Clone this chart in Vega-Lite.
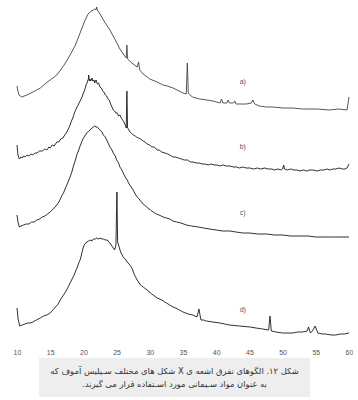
{
  "$schema": "https://vega.github.io/schema/vega-lite/v6.json",
  "background": "white",
  "padding": {"left": 13, "top": 0, "right": 0, "bottom": 0},
  "spacing": 3,
  "config": {"view": {"stroke": null}},
  "datasets": {
    "traces": [
      {"s":"a","t":10.0,"i":259},{"s":"a","t":10.1,"i":255},{"s":"a","t":10.3,"i":250},{"s":"a","t":10.7,"i":248},{"s":"a","t":11.5,"i":250},{"s":"a","t":12.4,"i":253},{"s":"a","t":13.5,"i":257},{"s":"a","t":14.2,"i":261},{"s":"a","t":15.0,"i":265},{"s":"a","t":16.0,"i":270},{"s":"a","t":17.0,"i":279},{"s":"a","t":18.0,"i":290},{"s":"a","t":18.8,"i":300},{"s":"a","t":19.5,"i":312},{"s":"a","t":20.2,"i":324},{"s":"a","t":20.7,"i":331},{"s":"a","t":21.2,"i":334},{"s":"a","t":21.5,"i":335},{"s":"a","t":21.7,"i":336},{"s":"a","t":21.9,"i":335},{"s":"a","t":22.0,"i":338},{"s":"a","t":22.1,"i":335},{"s":"a","t":22.5,"i":331},{"s":"a","t":23.2,"i":323},{"s":"a","t":24.0,"i":315},{"s":"a","t":24.8,"i":305},{"s":"a","t":25.5,"i":296},{"s":"a","t":26.1,"i":290},{"s":"a","t":26.45,"i":287},{"s":"a","t":26.55,"i":300},{"s":"a","t":26.65,"i":286},{"s":"a","t":27.3,"i":282},{"s":"a","t":28.1,"i":278},{"s":"a","t":28.3,"i":283},{"s":"a","t":28.5,"i":275},{"s":"a","t":29.0,"i":271},{"s":"a","t":30.0,"i":266},{"s":"a","t":31.1,"i":263},{"s":"a","t":32.0,"i":260},{"s":"a","t":32.6,"i":259},{"s":"a","t":33.5,"i":257},{"s":"a","t":34.1,"i":255},{"s":"a","t":35.0,"i":252},{"s":"a","t":35.5,"i":251},{"s":"a","t":35.65,"i":282},{"s":"a","t":35.8,"i":252},{"s":"a","t":36.4,"i":248},{"s":"a","t":37.5,"i":246},{"s":"a","t":38.6,"i":245},{"s":"a","t":39.5,"i":244},{"s":"a","t":40.6,"i":242},{"s":"a","t":40.8,"i":246},{"s":"a","t":41.0,"i":242},{"s":"a","t":41.6,"i":242},{"s":"a","t":41.8,"i":245},{"s":"a","t":42.0,"i":242},{"s":"a","t":42.6,"i":242},{"s":"a","t":42.8,"i":244},{"s":"a","t":43.0,"i":241},{"s":"a","t":44.5,"i":241},{"s":"a","t":45.3,"i":242},{"s":"a","t":45.5,"i":245},{"s":"a","t":45.8,"i":241},{"s":"a","t":46.5,"i":239},{"s":"a","t":47.6,"i":238},{"s":"a","t":48.5,"i":238},{"s":"a","t":50.1,"i":237},{"s":"a","t":51.5,"i":237},{"s":"a","t":53.0,"i":236},{"s":"a","t":55.2,"i":236},{"s":"a","t":57.0,"i":235},{"s":"a","t":58.5,"i":236},{"s":"a","t":59.7,"i":235},{"s":"a","t":60.0,"i":248},

      {"s":"b","t":10.0,"i":200},{"s":"b","t":10.15,"i":190},{"s":"b","t":10.35,"i":186},{"s":"b","t":10.6,"i":188},{"s":"b","t":10.8,"i":187},{"s":"b","t":11.0,"i":189},{"s":"b","t":11.2,"i":188},{"s":"b","t":11.5,"i":190},{"s":"b","t":11.8,"i":189},{"s":"b","t":12.1,"i":191},{"s":"b","t":12.4,"i":190},{"s":"b","t":12.7,"i":192},{"s":"b","t":13.0,"i":192},{"s":"b","t":13.4,"i":194},{"s":"b","t":13.8,"i":194},{"s":"b","t":14.2,"i":196},{"s":"b","t":14.5,"i":195},{"s":"b","t":14.8,"i":198},{"s":"b","t":15.0,"i":197},{"s":"b","t":15.3,"i":200},{"s":"b","t":15.6,"i":199},{"s":"b","t":16.0,"i":203},{"s":"b","t":16.3,"i":203},{"s":"b","t":16.6,"i":206},{"s":"b","t":16.9,"i":207},{"s":"b","t":17.2,"i":210},{"s":"b","t":17.5,"i":213},{"s":"b","t":17.8,"i":217},{"s":"b","t":18.0,"i":220},{"s":"b","t":18.2,"i":224},{"s":"b","t":18.4,"i":227},{"s":"b","t":18.7,"i":233},{"s":"b","t":18.9,"i":236},{"s":"b","t":19.2,"i":240},{"s":"b","t":19.5,"i":244},{"s":"b","t":19.8,"i":248},{"s":"b","t":20.0,"i":252},{"s":"b","t":20.2,"i":255},{"s":"b","t":20.4,"i":260},{"s":"b","t":20.6,"i":263},{"s":"b","t":20.75,"i":266},{"s":"b","t":20.8,"i":270},{"s":"b","t":20.9,"i":264},{"s":"b","t":21.0,"i":266},{"s":"b","t":21.1,"i":264},{"s":"b","t":21.3,"i":267},{"s":"b","t":21.4,"i":264},{"s":"b","t":21.6,"i":265},{"s":"b","t":21.7,"i":262},{"s":"b","t":21.9,"i":265},{"s":"b","t":22.1,"i":261},{"s":"b","t":22.3,"i":262},{"s":"b","t":22.5,"i":258},{"s":"b","t":22.7,"i":257},{"s":"b","t":22.9,"i":254},{"s":"b","t":23.1,"i":253},{"s":"b","t":23.3,"i":250},{"s":"b","t":23.5,"i":249},{"s":"b","t":23.7,"i":246},{"s":"b","t":23.9,"i":245},{"s":"b","t":24.1,"i":241},{"s":"b","t":24.3,"i":238},{"s":"b","t":24.5,"i":235},{"s":"b","t":24.7,"i":234},{"s":"b","t":24.9,"i":232},{"s":"b","t":25.1,"i":232},{"s":"b","t":25.3,"i":229},{"s":"b","t":25.5,"i":230},{"s":"b","t":25.7,"i":227},{"s":"b","t":25.9,"i":225},{"s":"b","t":26.1,"i":223},{"s":"b","t":26.3,"i":220},{"s":"b","t":26.45,"i":217},{"s":"b","t":26.55,"i":254},{"s":"b","t":26.65,"i":217},{"s":"b","t":26.8,"i":216},{"s":"b","t":27.0,"i":213},{"s":"b","t":27.2,"i":212},{"s":"b","t":27.5,"i":210},{"s":"b","t":27.8,"i":209},{"s":"b","t":28.0,"i":208},{"s":"b","t":28.3,"i":207},{"s":"b","t":28.6,"i":206},{"s":"b","t":29.0,"i":204},{"s":"b","t":29.3,"i":203},{"s":"b","t":29.6,"i":201},{"s":"b","t":30.0,"i":200},{"s":"b","t":30.3,"i":198},{"s":"b","t":30.7,"i":198},{"s":"b","t":31.1,"i":195},{"s":"b","t":31.4,"i":195},{"s":"b","t":31.8,"i":193},{"s":"b","t":32.3,"i":192},{"s":"b","t":32.7,"i":191},{"s":"b","t":33.0,"i":190},{"s":"b","t":33.5,"i":188},{"s":"b","t":33.9,"i":188},{"s":"b","t":34.3,"i":187},{"s":"b","t":34.8,"i":186},{"s":"b","t":35.2,"i":185},{"s":"b","t":35.7,"i":185},{"s":"b","t":36.1,"i":183},{"s":"b","t":36.5,"i":183},{"s":"b","t":37.0,"i":182},{"s":"b","t":37.4,"i":182},{"s":"b","t":37.9,"i":181},{"s":"b","t":38.3,"i":181},{"s":"b","t":38.8,"i":180},{"s":"b","t":39.2,"i":181},{"s":"b","t":39.7,"i":180},{"s":"b","t":40.1,"i":180},{"s":"b","t":40.6,"i":179},{"s":"b","t":41.0,"i":180},{"s":"b","t":41.5,"i":179},{"s":"b","t":42.1,"i":179},{"s":"b","t":42.6,"i":178},{"s":"b","t":43.1,"i":178},{"s":"b","t":43.5,"i":177},{"s":"b","t":44.0,"i":178},{"s":"b","t":44.5,"i":177},{"s":"b","t":45.1,"i":177},{"s":"b","t":45.6,"i":176},{"s":"b","t":46.2,"i":177},{"s":"b","t":46.7,"i":176},{"s":"b","t":47.3,"i":177},{"s":"b","t":47.8,"i":176},{"s":"b","t":48.3,"i":176},{"s":"b","t":48.8,"i":175},{"s":"b","t":49.3,"i":176},{"s":"b","t":49.8,"i":175},{"s":"b","t":50.0,"i":176},{"s":"b","t":50.15,"i":180},{"s":"b","t":50.3,"i":176},{"s":"b","t":50.7,"i":175},{"s":"b","t":51.2,"i":176},{"s":"b","t":51.7,"i":175},{"s":"b","t":52.2,"i":175},{"s":"b","t":52.6,"i":174},{"s":"b","t":53.1,"i":175},{"s":"b","t":53.6,"i":174},{"s":"b","t":54.1,"i":175},{"s":"b","t":54.6,"i":175},{"s":"b","t":55.2,"i":174},{"s":"b","t":55.7,"i":175},{"s":"b","t":56.2,"i":175},{"s":"b","t":56.7,"i":176},{"s":"b","t":57.1,"i":175},{"s":"b","t":57.6,"i":176},{"s":"b","t":58.0,"i":176},{"s":"b","t":58.5,"i":177},{"s":"b","t":59.0,"i":176},{"s":"b","t":59.4,"i":176},{"s":"b","t":59.7,"i":177},{"s":"b","t":60.0,"i":181},

      {"s":"c","t":10.0,"i":130},{"s":"c","t":10.15,"i":123},{"s":"c","t":10.35,"i":118},{"s":"c","t":10.6,"i":119},{"s":"c","t":11.0,"i":120},{"s":"c","t":11.4,"i":121},{"s":"c","t":11.8,"i":121},{"s":"c","t":12.2,"i":123},{"s":"c","t":12.6,"i":123},{"s":"c","t":13.0,"i":125},{"s":"c","t":13.4,"i":126},{"s":"c","t":13.8,"i":128},{"s":"c","t":14.2,"i":129},{"s":"c","t":14.6,"i":131},{"s":"c","t":15.0,"i":133},{"s":"c","t":15.3,"i":135},{"s":"c","t":15.6,"i":137},{"s":"c","t":16.0,"i":140},{"s":"c","t":16.3,"i":143},{"s":"c","t":16.6,"i":147},{"s":"c","t":16.8,"i":150},{"s":"c","t":17.0,"i":152},{"s":"c","t":17.3,"i":157},{"s":"c","t":17.5,"i":160},{"s":"c","t":17.8,"i":165},{"s":"c","t":18.0,"i":168},{"s":"c","t":18.3,"i":174},{"s":"c","t":18.5,"i":179},{"s":"c","t":18.8,"i":185},{"s":"c","t":19.0,"i":190},{"s":"c","t":19.3,"i":195},{"s":"c","t":19.5,"i":199},{"s":"c","t":19.8,"i":204},{"s":"c","t":20.0,"i":207},{"s":"c","t":20.3,"i":210},{"s":"c","t":20.5,"i":212},{"s":"c","t":20.8,"i":214},{"s":"c","t":21.0,"i":215},{"s":"c","t":21.3,"i":217},{"s":"c","t":21.5,"i":218},{"s":"c","t":21.7,"i":219},{"s":"c","t":21.9,"i":218},{"s":"c","t":22.1,"i":218},{"s":"c","t":22.3,"i":216},{"s":"c","t":22.5,"i":215},{"s":"c","t":22.8,"i":213},{"s":"c","t":23.0,"i":210},{"s":"c","t":23.3,"i":208},{"s":"c","t":23.5,"i":205},{"s":"c","t":23.8,"i":201},{"s":"c","t":24.0,"i":198},{"s":"c","t":24.3,"i":195},{"s":"c","t":24.5,"i":192},{"s":"c","t":24.8,"i":189},{"s":"c","t":25.0,"i":185},{"s":"c","t":25.3,"i":182},{"s":"c","t":25.5,"i":178},{"s":"c","t":25.8,"i":175},{"s":"c","t":26.0,"i":172},{"s":"c","t":26.3,"i":168},{"s":"c","t":26.6,"i":165},{"s":"c","t":26.8,"i":162},{"s":"c","t":27.0,"i":160},{"s":"c","t":27.3,"i":157},{"s":"c","t":27.5,"i":155},{"s":"c","t":27.8,"i":151},{"s":"c","t":28.1,"i":148},{"s":"c","t":28.4,"i":146},{"s":"c","t":28.6,"i":144},{"s":"c","t":29.0,"i":141},{"s":"c","t":29.4,"i":139},{"s":"c","t":29.7,"i":137},{"s":"c","t":30.1,"i":135},{"s":"c","t":30.5,"i":133},{"s":"c","t":31.0,"i":131},{"s":"c","t":31.4,"i":130},{"s":"c","t":32.0,"i":128},{"s":"c","t":32.5,"i":127},{"s":"c","t":33.0,"i":126},{"s":"c","t":33.5,"i":124},{"s":"c","t":34.0,"i":123},{"s":"c","t":34.7,"i":122},{"s":"c","t":35.5,"i":120},{"s":"c","t":36.3,"i":119},{"s":"c","t":37.3,"i":118},{"s":"c","t":38.1,"i":117},{"s":"c","t":39.0,"i":116},{"s":"c","t":40.0,"i":115},{"s":"c","t":41.0,"i":114},{"s":"c","t":42.0,"i":114},{"s":"c","t":43.0,"i":113},{"s":"c","t":44.0,"i":112},{"s":"c","t":45.0,"i":112},{"s":"c","t":46.3,"i":111},{"s":"c","t":47.6,"i":111},{"s":"c","t":48.8,"i":110},{"s":"c","t":50.0,"i":110},{"s":"c","t":51.2,"i":109},{"s":"c","t":52.5,"i":109},{"s":"c","t":53.8,"i":109},{"s":"c","t":55.0,"i":108},{"s":"c","t":56.2,"i":108},{"s":"c","t":57.5,"i":108},{"s":"c","t":58.8,"i":108},{"s":"c","t":60.0,"i":108},

      {"s":"d","t":10.0,"i":37},{"s":"d","t":10.15,"i":27},{"s":"d","t":10.4,"i":19},{"s":"d","t":10.8,"i":20},{"s":"d","t":11.2,"i":21},{"s":"d","t":11.6,"i":22},{"s":"d","t":12.0,"i":22},{"s":"d","t":12.4,"i":23},{"s":"d","t":12.9,"i":25},{"s":"d","t":13.5,"i":27},{"s":"d","t":14.0,"i":29},{"s":"d","t":14.5,"i":30},{"s":"d","t":15.0,"i":32},{"s":"d","t":15.4,"i":35},{"s":"d","t":15.8,"i":38},{"s":"d","t":16.2,"i":41},{"s":"d","t":16.5,"i":45},{"s":"d","t":16.9,"i":49},{"s":"d","t":17.3,"i":53},{"s":"d","t":17.7,"i":58},{"s":"d","t":18.0,"i":62},{"s":"d","t":18.3,"i":66},{"s":"d","t":18.6,"i":70},{"s":"d","t":18.9,"i":75},{"s":"d","t":19.1,"i":78},{"s":"d","t":19.3,"i":82},{"s":"d","t":19.5,"i":85},{"s":"d","t":19.7,"i":90},{"s":"d","t":19.8,"i":93},{"s":"d","t":20.0,"i":98},{"s":"d","t":20.2,"i":101},{"s":"d","t":20.4,"i":102},{"s":"d","t":20.5,"i":103},{"s":"d","t":20.8,"i":104},{"s":"d","t":21.0,"i":105},{"s":"d","t":21.3,"i":104},{"s":"d","t":21.5,"i":106},{"s":"d","t":21.8,"i":106},{"s":"d","t":22.0,"i":107},{"s":"d","t":22.3,"i":106},{"s":"d","t":22.5,"i":107},{"s":"d","t":22.8,"i":106},{"s":"d","t":23.0,"i":106},{"s":"d","t":23.3,"i":105},{"s":"d","t":23.6,"i":105},{"s":"d","t":23.8,"i":103},{"s":"d","t":24.0,"i":102},{"s":"d","t":24.3,"i":99},{"s":"d","t":24.5,"i":97},{"s":"d","t":24.7,"i":95},{"s":"d","t":24.9,"i":100},{"s":"d","t":25.05,"i":153},{"s":"d","t":25.15,"i":103},{"s":"d","t":25.3,"i":100},{"s":"d","t":25.6,"i":93},{"s":"d","t":26.0,"i":88},{"s":"d","t":26.3,"i":86},{"s":"d","t":26.6,"i":83},{"s":"d","t":27.0,"i":80},{"s":"d","t":27.3,"i":77},{"s":"d","t":27.7,"i":70},{"s":"d","t":28.1,"i":65},{"s":"d","t":28.4,"i":62},{"s":"d","t":28.6,"i":60},{"s":"d","t":29.0,"i":58},{"s":"d","t":29.6,"i":55},{"s":"d","t":30.3,"i":51},{"s":"d","t":31.1,"i":47},{"s":"d","t":31.8,"i":45},{"s":"d","t":32.5,"i":42},{"s":"d","t":33.0,"i":40},{"s":"d","t":33.5,"i":38},{"s":"d","t":34.2,"i":36},{"s":"d","t":35.0,"i":33},{"s":"d","t":35.8,"i":31},{"s":"d","t":36.5,"i":30},{"s":"d","t":37.1,"i":28},{"s":"d","t":37.4,"i":36},{"s":"d","t":37.7,"i":25},{"s":"d","t":38.1,"i":25},{"s":"d","t":38.5,"i":24},{"s":"d","t":39.5,"i":23},{"s":"d","t":40.6,"i":22},{"s":"d","t":41.3,"i":21},{"s":"d","t":42.0,"i":20},{"s":"d","t":43.5,"i":19},{"s":"d","t":45.1,"i":18},{"s":"d","t":46.0,"i":17},{"s":"d","t":47.0,"i":16},{"s":"d","t":47.9,"i":15},{"s":"d","t":48.1,"i":29},{"s":"d","t":48.3,"i":14},{"s":"d","t":49.0,"i":13},{"s":"d","t":50.0,"i":12},{"s":"d","t":50.8,"i":12},{"s":"d","t":51.5,"i":12},{"s":"d","t":52.3,"i":13},{"s":"d","t":53.0,"i":13},{"s":"d","t":53.7,"i":14},{"s":"d","t":53.9,"i":18},{"s":"d","t":54.2,"i":12},{"s":"d","t":54.5,"i":14},{"s":"d","t":54.9,"i":19},{"s":"d","t":55.3,"i":12},{"s":"d","t":56.0,"i":11},{"s":"d","t":56.5,"i":11},{"s":"d","t":57.3,"i":10},{"s":"d","t":58.0,"i":10},{"s":"d","t":58.7,"i":11},{"s":"d","t":59.3,"i":11},{"s":"d","t":60.0,"i":12}
    ],
    "labels": [
      {"s":"a","t":44.0,"i":263,"label":"a)"},
      {"s":"b","t":44.0,"i":198,"label":"b)"},
      {"s":"c","t":44.0,"i":132,"label":"c)"},
      {"s":"d","t":44.0,"i":35,"label":"d)"}
    ],
    "caption": [
      {"line":1,"text":"\u202bشکل ۱۲. الگوهای تفرق اشعه ی X شکل های مختلف سـیلیس آموف که\u202c"},
      {"line":2,"text":"\u202bبه عنوان مواد سـیمانی مورد اسـتفاده قرار می گیرند.\u202c"}
    ]
  },
  "vconcat": [
    {
      "width": 332,
      "height": 345,
      "encoding": {
        "x": {"field": "t", "type": "quantitative", "scale": {"domain": [10, 60], "nice": false, "zero": false},
              "axis": {"values": [10,15,20,25,30,35,40,45,50,55,60], "domain": false, "ticks": false, "grid": false, "title": null,
                       "labelFlush": false, "labelOverlap": false, "labelFontSize": 7, "labelFont": "Liberation Sans", "labelColor": "#555555", "labelPadding": 3}},
        "y": {"field": "i", "type": "quantitative", "scale": {"domain": [0, 345], "nice": false, "zero": false}, "axis": null}
      },
      "layer": [
        {
          "data": {"name": "traces"},
          "mark": {"type": "line", "strokeWidth": 0.9, "interpolate": "linear"},
          "encoding": {
            "detail": {"field": "s"},
            "color": {"field": "s", "type": "nominal", "scale": {"domain": ["a","b","c","d"], "range": ["#444444","#1a1a1a","#1a1a1a","#1a1a1a"]}, "legend": null}
          }
        },
        {
          "data": {"name": "labels"},
          "mark": {"type": "text", "fontSize": 7, "font": "Liberation Sans", "fill": "#555555", "align": "center"},
          "encoding": {
            "text": {"field": "label"}
          }
        }
      ]
    },
    {
      "spacing": 0,
      "hconcat": [
        {
          "width": 22,
          "height": 39,
          "data": {"values": []},
          "mark": {"type": "point", "opacity": 0},
          "encoding": {}
        },
        {
          "width": 271,
          "height": 39,
          "view": {"fill": "#eeeeee", "stroke": null},
          "data": {"name": "caption"},
          "mark": {"type": "text", "font": "DejaVu Sans", "fontSize": 8.4, "fill": "#333333", "align": "center"},
          "encoding": {
            "y": {"field": "line", "type": "ordinal", "scale": {"type": "point", "padding": 1.27}, "axis": null},
            "text": {"field": "text"}
          }
        }
      ]
    }
  ]
}
